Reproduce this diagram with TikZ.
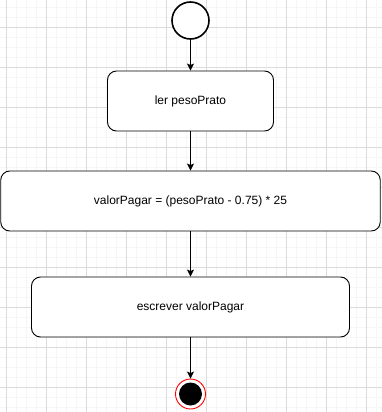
\documentclass[tikz,border=0pt]{standalone}
\usepackage{fontspec}
\setmainfont{Liberation Sans}
\usetikzlibrary{arrows.meta}
\definecolor{gridminor}{RGB}{246,246,246}
\definecolor{gridmajor}{RGB}{220,220,220}
\tikzset{
    flowstart/.style={circle, draw=black, line width=1.6pt, fill=white, minimum size=37pt, inner sep=0pt},
    flowstep/.style={rectangle, rounded corners=9pt, draw=black, line width=0.9pt, fill=white, minimum height=60pt, inner sep=0pt, font=\fontsize{12}{14}\selectfont},
    flowend/.style={circle, draw=red, line width=0.9pt, fill=white, minimum size=30pt, inner sep=0pt,
        path picture={\fill[black] (path picture bounding box.center) circle (11.5pt);}},
    flowarrow/.style={-{Stealth[length=7pt,width=7pt,inset=1.5pt]}, line width=0.9pt}
}

\begin{document}
\begin{tikzpicture}[x=1pt, y=-1pt]
    \useasboundingbox (0,0) rectangle (382,412);
    % background grid
    \foreach \gx in {6,16,...,376} \draw[gridminor, line width=0.7pt] (\gx,0) -- (\gx,412);
    \foreach \gy in {7,17,...,407} \draw[gridminor, line width=0.7pt] (0,\gy) -- (382,\gy);
    \foreach \gx in {6,46,...,366} \draw[gridmajor, line width=0.7pt] (\gx,0) -- (\gx,412);
    \foreach \gy in {27,67,...,387} \draw[gridmajor, line width=0.7pt] (0,\gy) -- (382,\gy);

    \node[flowstart] (inicio) at (190.5,20.5) {};
    \node[flowstep, minimum width=166pt] (ler) at (190.5,101) {ler pesoPrato};
    \node[flowstep, minimum width=379.5pt] (calc) at (190.5,201) {valorPagar = (pesoPrato - 0.75) * 25};
    \node[flowstep, minimum width=318pt] (escrever) at (190.5,307) {escrever valorPagar};
    \node[flowend] (fim) at (190.5,394) {};

    % transitions
    \draw[flowarrow] (inicio) -- (ler);
    \draw[flowarrow] (ler) -- (calc);
    \draw[flowarrow] (calc) -- (escrever);
    \draw[flowarrow] (escrever) -- (fim);
\end{tikzpicture}
\end{document}
